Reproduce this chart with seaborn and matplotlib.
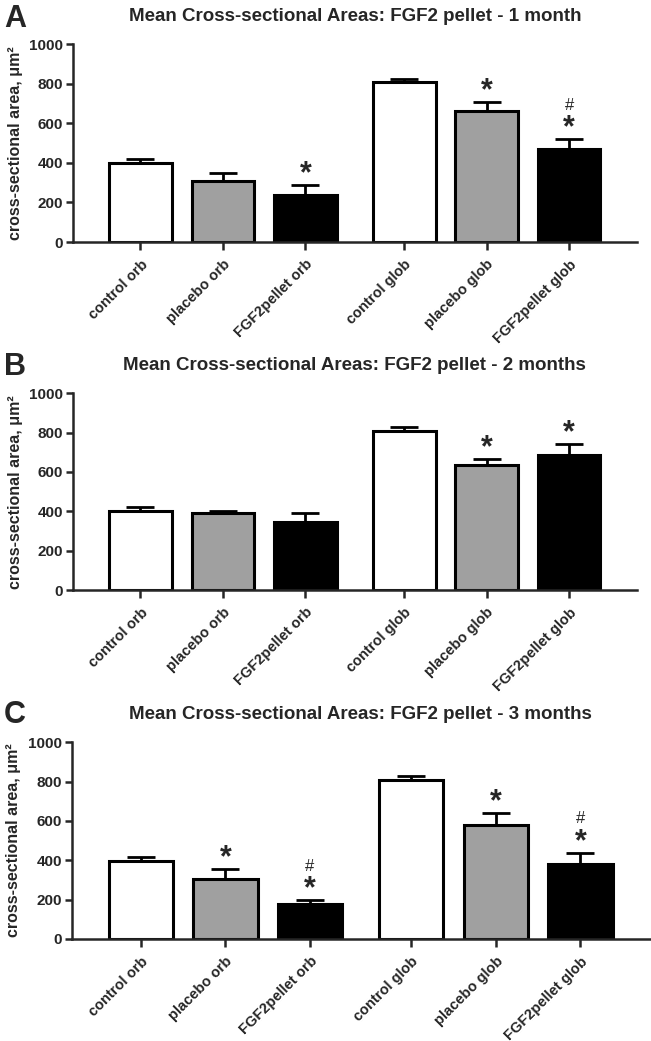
import matplotlib
matplotlib.use("Agg")
import matplotlib.pyplot as plt
import seaborn as sns
import numpy as np
import pandas as pd

# bar categories and fills
groups = ["control orb", "placebo orb", "FGF2pellet orb",
          "control glob", "placebo glob", "FGF2pellet glob"]
bar_colors = ["white", "#a0a0a0", "black", "white", "#a0a0a0", "black"]

panel_letters = ["A", "B", "C"]
titles = ["Mean Cross-sectional Areas: FGF2 pellet - 1 month",
          "Mean Cross-sectional Areas: FGF2 pellet - 2 months",
          "Mean Cross-sectional Areas: FGF2 pellet - 3 months"]

# means and upper error (SEM)
mean_1m = [400, 308, 238, 808, 660, 468]
sem_1m = [18, 42, 49, 16, 50, 52]
mean_2m = [402, 392, 345, 809, 636, 688]
sem_2m = [19, 11, 47, 21, 29, 56]
mean_3m = [398, 307, 178, 807, 578, 380]
sem_3m = [18, 47, 20, 19, 64, 59]

# significance marks: '*' vs control, '#' vs placebo
marks_1m = ["", "", "*", "", "*", "#*"]
marks_2m = ["", "", "", "", "*", "*"]
marks_3m = ["", "*", "#*", "", "*", "#*"]

means = [mean_1m, mean_2m, mean_3m]
sems = [sem_1m, sem_2m, sem_3m]
marks = [marks_1m, marks_2m, marks_3m]

sns.set_theme(style="ticks")
plt.rcParams['font.family'] = ['Liberation Sans', 'DejaVu Sans']
plt.rcParams['font.weight'] = 'bold'

# small gap between the orb and glob groups
idx = np.arange(len(groups))
pos = idx + 0.2 * (idx >= 3)

fig = plt.figure(figsize=(6.51, 10.41), dpi=100)
# [left, bottom, width, height] of each panel
boxes = [[0.112, 0.7675, 0.866, 0.190],
         [0.112, 0.4332, 0.866, 0.189],
         [0.110, 0.0980, 0.888, 0.189]]
letter_y = [1 - 4 / 1041, 1 - 352 / 1041, 1 - 700 / 1041]

for k in range(3):
    ax = fig.add_axes(boxes[k])
    df = pd.DataFrame({"pos": pos, "group": groups, "mean": means[k]})
    sns.barplot(data=df, x="pos", y="mean", hue="group", palette=bar_colors,
                native_scale=True, width=0.76, edgecolor="black", linewidth=2.2,
                legend=False, ax=ax)
    ax.errorbar(pos, means[k], yerr=[np.zeros(6), sems[k]], fmt="none",
                ecolor="black", elinewidth=2, capsize=10, capthick=2, zorder=1)
    ax.set_ylim(0, 1000)
    ax.set_xlim(-0.82, pos[-1] + 0.82)
    ax.set_yticks([0, 200, 400, 600, 800, 1000])
    ax.set_xticks(pos)
    ax.set_xticklabels(groups, rotation=45, ha="right", rotation_mode="anchor",
                       fontsize=10.5, fontweight="bold")
    ax.tick_params(axis="y", labelsize=11, width=1.8, length=5, pad=2)
    ax.tick_params(axis="x", width=1.8, length=6, pad=5)
    for lab in ax.get_yticklabels():
        lab.set_fontweight("bold")
    for s in ["left", "bottom"]:
        ax.spines[s].set_linewidth(1.8)
    sns.despine(ax=ax)
    ax.set_xlabel("")
    ax.set_ylabel("cross-sectional area, μm²", fontsize=11.5, fontweight="bold")
    ax.yaxis.set_label_coords(-0.088, 0.5)
    ax.set_title(titles[k], fontsize=13.5, fontweight="bold", pad=17)
    fig.text(0.006, letter_y[k], panel_letters[k], fontsize=22,
             fontweight="bold", va="top", ha="left")

    for p, m, e, mk in zip(pos, means[k], sems[k], marks[k]):
        top = m + e
        if "*" in mk:
            ax.annotate("*", (p, top), xytext=(0, -3), textcoords="offset points",
                        ha="center", va="bottom", fontsize=22, fontweight="bold")
        if "#" in mk:
            ax.annotate("#", (p, top), xytext=(0, 19), textcoords="offset points",
                        ha="center", va="bottom", fontsize=12, fontweight="normal")

fig.savefig("out.png", dpi=100)
